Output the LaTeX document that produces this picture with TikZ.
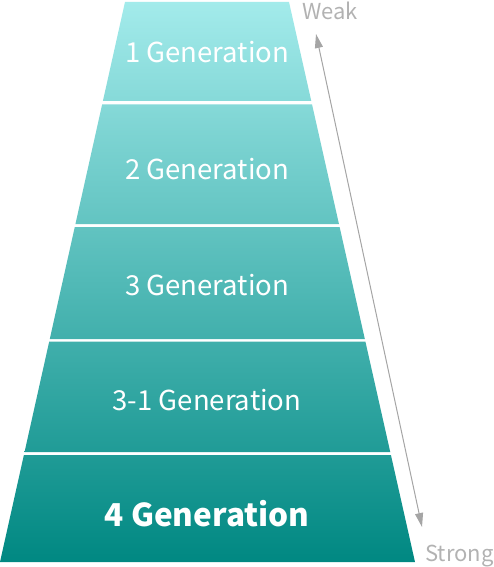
\documentclass[tikz,border=0pt]{standalone}
\usepackage{fontspec}
\setmainfont{Noto Sans CJK KR}
\usetikzlibrary{arrows.meta}
\definecolor{topc}{RGB}{163,235,235}
\definecolor{botc}{RGB}{0,136,130}
\definecolor{arrowc}{RGB}{165,165,165}
\definecolor{labc}{RGB}{178,178,178}
\newcommand\pyrband[4]{%
  \colorlet{bandtop}{botc!#3!topc}\colorlet{bandbot}{botc!#4!topc}%
  \shade[top color=bandtop,bottom color=bandbot]
    ({125-125/560*(#1-2)},#1) -- ({289+126/560*(#1-2)},#1) --
    ({289+126/560*(#2-2)},#2) -- ({125-125/560*(#2-2)},#2) -- cycle;}
\begin{document}
\begin{tikzpicture}[x=1pt,y=-1pt,
  gen/.style={text=white,inner sep=0pt,anchor=base,font=\fontsize{27.5}{27.5}\selectfont},
  genbold/.style={gen,font=\fontsize{31.5}{31.5}\selectfont\bfseries},
  lab/.style={text=labc,inner sep=0pt,anchor=base west,font=\fontsize{22}{22}\selectfont},
  scale arrow/.style={draw=arrowc,line width=1pt,{Triangle[length=14pt,width=8pt]}-{Triangle[length=14pt,width=8pt]}}]
\useasboundingbox (0,0) rectangle (494,567);
\pyrband{2}{101}{0}{17.7}
\pyrband{104.5}{224}{18.3}{39.6}
\pyrband{227}{339}{40.2}{60.2}
\pyrband{341.5}{452}{60.6}{80.4}
\pyrband{455}{562}{80.9}{100}
\node[gen] (g1) at (207,63) {1 Generation};
\node[gen] (g2) at (207,179) {2 Generation};
\node[gen] (g3) at (207,295) {3 Generation};
\node[gen] (g31) at (207,410) {3-1 Generation};
\node[genbold] (g4) at (207,526) {4 Generation};
\node[lab] (weak) at (302,20) {Weak};
\node[lab] (strong) at (425,561) {Strong};
\coordinate (aw) at (316,34);
\coordinate (as) at (422,527);
\draw[scale arrow] (aw) -- (as);
\end{tikzpicture}
\end{document}
